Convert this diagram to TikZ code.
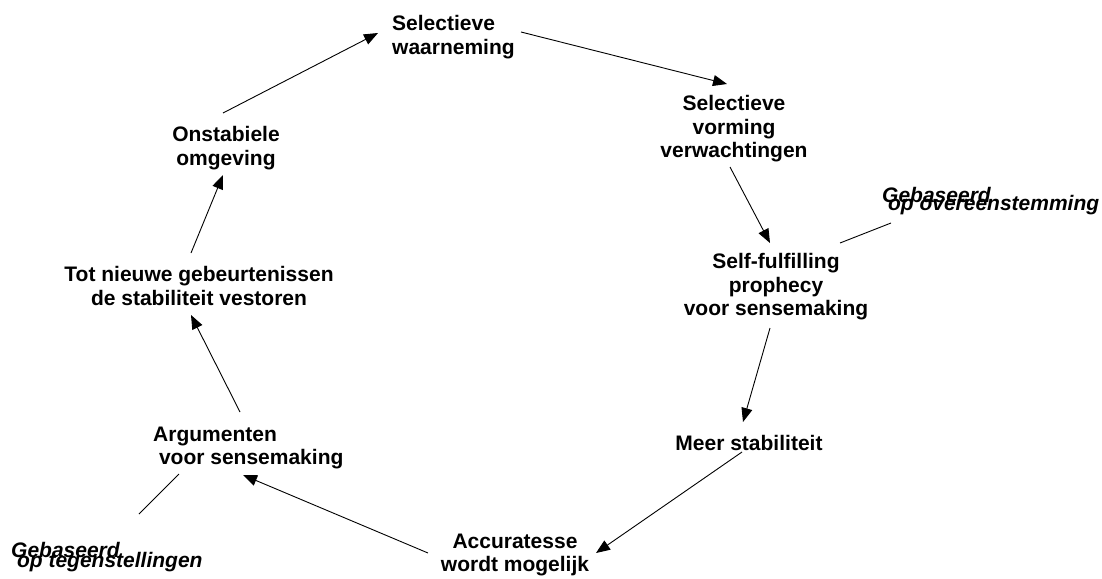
\documentclass[tikz,border=0pt]{standalone}
\usepackage{fontspec}
\setmainfont{Liberation Sans}
\usetikzlibrary{arrows.meta}
\begin{document}
\begin{tikzpicture}[x=1pt,y=-1pt,
  lbl/.style={inner sep=0pt, font=\bfseries\fontsize{21}{23.3}\selectfont},
  note/.style={inner sep=0pt, align=left, font=\bfseries\itshape\fontsize{21}{23.3}\selectfont},
  arr/.style={line width=0.9pt, -{Triangle[length=14pt,width=11pt]}},
  ln/.style={line width=0.9pt}]
\useasboundingbox (0,0) rectangle (1102,578);
% nodes
\node[lbl, align=left, anchor=west] (selw) at (392,37) {Selectieve\\waarneming};
\node[lbl, align=center] (selv) at (734,128.7) {Selectieve\\vorming\\verwachtingen};
\node[lbl, align=center] (self) at (776,286.7) {Self-fulfilling\\prophecy\\voor sensemaking};
\node[note, anchor=north west] (n1) at (882,187) {Gebaseerd\\[-15.3pt]\hspace*{0.278em}op overeenstemming};
\node[lbl] (meer) at (749,443) {Meer stabiliteit};
\node[lbl, align=center] (acc) at (515,555) {Accuratesse\\wordt mogelijk};
\node[lbl, align=left, anchor=west] (arg) at (153,448) {Argumenten\\\hspace*{0.278em}voor sensemaking};
\node[note, anchor=north west] (n2) at (11,542) {Gebaseerd\\[-13.3pt]\hspace*{0.278em}op tegenstellingen};
\node[lbl, align=center] (tot) at (199,286) {Tot nieuwe gebeurtenissen\\de stabiliteit vestoren};
\node[lbl, align=center] (onst) at (226,148) {Onstabiele\\omgeving};
% connector end points
\coordinate (onst-out) at (223,113);
\coordinate (selw-in) at (378,33);
\coordinate (selw-out) at (521,32);
\coordinate (selv-in) at (727,84);
\coordinate (selv-out) at (730,167);
\coordinate (self-in) at (770,243);
\coordinate (self-out) at (770,328);
\coordinate (meer-in) at (743,422);
\coordinate (meer-out) at (742,452);
\coordinate (acc-in) at (596,553);
\coordinate (acc-out) at (428,553);
\coordinate (arg-in) at (243,475);
\coordinate (arg-out) at (240,412);
\coordinate (tot-in) at (191,315);
\coordinate (tot-out) at (191,253);
\coordinate (onst-in) at (223,175);
\coordinate (self-n) at (840,243);
\coordinate (n1-l) at (891,223);
\coordinate (arg-n) at (179,474);
\coordinate (n2-l) at (139,514);
% connectors
\draw[arr] (onst-out) -- (selw-in);
\draw[arr] (selw-out) -- (selv-in);
\draw[arr] (selv-out) -- (self-in);
\draw[arr] (self-out) -- (meer-in);
\draw[arr] (meer-out) -- (acc-in);
\draw[arr] (acc-out) -- (arg-in);
\draw[arr] (arg-out) -- (tot-in);
\draw[arr] (tot-out) -- (onst-in);
\draw[ln] (self-n) -- (n1-l);
\draw[ln] (arg-n) -- (n2-l);
\end{tikzpicture}
\end{document}
